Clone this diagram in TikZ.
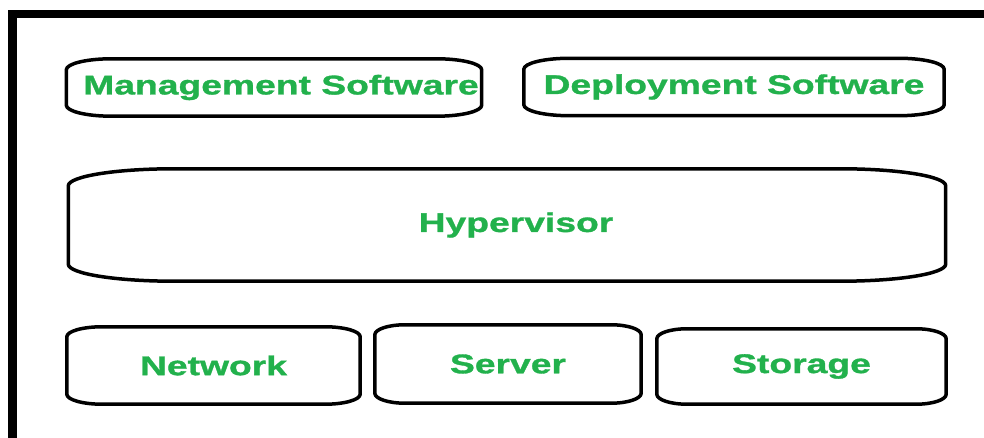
\documentclass[tikz,border=0pt]{standalone}
\usepackage{fontspec}
\newfontfamily\boxfont[FakeStretch=1.38,BoldFeatures={FakeBold=1.2}]{Liberation Sans}
\definecolor{paintgreen}{RGB}{34,177,76}

\tikzset{
  layer/.style={inner sep=0pt, text=paintgreen,
    font=\boxfont\bfseries\fontsize{27}{32}\selectfont},
  outline/.style={line width=3.5pt, line join=round},
  frame/.style={line width=8.5pt}
}

% outline with flattened corners: node, x radius, y radius
\newcommand\flatcorners[3]{%
  \draw[outline] ([xshift=#2pt]#1.north west) -- ([xshift=-#2pt]#1.north east)
    arc[start angle=90, end angle=0, x radius=#2pt, y radius=#3pt]
    -- ([yshift=#3pt]#1.south east)
    arc[start angle=0, end angle=-90, x radius=#2pt, y radius=#3pt]
    -- ([xshift=#2pt]#1.south west)
    arc[start angle=270, end angle=180, x radius=#2pt, y radius=#3pt]
    -- ([yshift=-#3pt]#1.north west)
    arc[start angle=180, end angle=90, x radius=#2pt, y radius=#3pt] -- cycle;}

\begin{document}
\begin{tikzpicture}[x=1pt,y=1pt]
        \clip (0,0) rectangle (984,438);
        \fill[white] (0,0) rectangle (984,438);
        %Shape: Frame
        \draw[frame] (12.5,-30) -- (12.5,424) -- (1010,424);
        % Text Node
        \node[layer, minimum width=415, minimum height=57] (mgmt) at (274,350.5) {\hspace{14pt}Management Software};
        % Text Node
        \node[layer, minimum width=420, minimum height=57] (deploy) at (734,351) {Deployment Software};
        % Text Node
        \node[layer, minimum width=877, minimum height=112] (hyper) at (507,213) {\hspace{18pt}Hypervisor};
        % Text Node
        \node[layer, minimum width=293, minimum height=77] (network) at (213.5,72.5) {Network};
        % Text Node
        \node[layer, minimum width=266, minimum height=78] (server) at (508,74) {Server};
        % Text Node
        \node[layer, minimum width=289, minimum height=75] (storage) at (801.5,71.5) {Storage};
        %Shape: Boxes
        \flatcorners{mgmt}{45}{11}
        \flatcorners{deploy}{45}{11}
        \flatcorners{hyper}{105}{17}
        \flatcorners{network}{35}{10}
        \flatcorners{server}{30}{10}
        \flatcorners{storage}{30}{10}
\end{tikzpicture}
\end{document}
